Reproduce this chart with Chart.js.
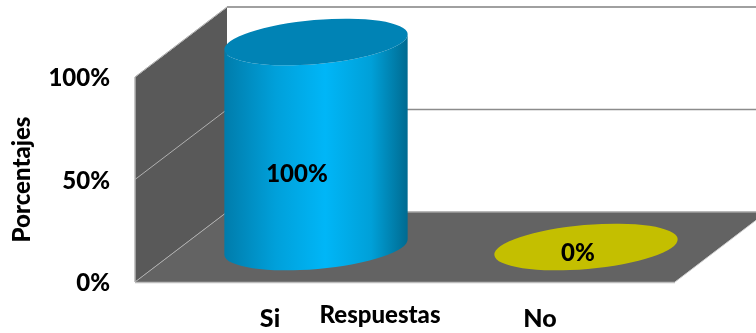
<!DOCTYPE html>
<html>
<head>
<meta charset="utf-8">
<script src="https://cdn.jsdelivr.net/npm/chart.js@4/dist/chart.umd.min.js"></script>
<style>
  html, body { margin: 0; padding: 0; background: #fff; }
  #wrap { width: 756px; height: 333px; }
</style>
</head>
<body>
<div id="wrap"><canvas id="chart" width="756" height="333"></canvas></div>
<script>
const categories = ['Si', 'No'];
const values = [100, 0];
const yTicks = [0, 50, 100];
const barColors = ['#00b6f7', '#c4bf00'];
const yTitle = 'Porcentajes';
const xTitle = 'Respuestas';

// fake 3d depth
const depthX = 92;
const depthY = -70;
const ellipseRy = 22;
const tilt = -5 * Math.PI / 180;
const labelFont = '900 24px Lato';
const labelShift = [[27, -5], [38, -29]];

function poly(ctx, pts, fill, stroke, lw) {
  ctx.beginPath();
  pts.forEach((p, i) => i ? ctx.lineTo(p[0], p[1]) : ctx.moveTo(p[0], p[1]));
  ctx.closePath();
  if (fill) { ctx.fillStyle = fill; ctx.fill(); }
  if (stroke) { ctx.strokeStyle = stroke; ctx.lineWidth = lw || 1; ctx.stroke(); }
}

function line(ctx, x1, y1, x2, y2, color, lw) {
  ctx.beginPath();
  ctx.moveTo(x1, y1);
  ctx.lineTo(x2, y2);
  ctx.strokeStyle = color;
  ctx.lineWidth = lw;
  ctx.stroke();
}

const walls = {
  id: 'walls',
  beforeDatasetsDraw(chart) {
    const { ctx, chartArea: a, scales: { y } } = chart;
    const y0 = y.getPixelForValue(0);
    const yMax = y.getPixelForValue(100);
    ctx.save();
    // floor
    poly(ctx, [[a.left, y0], [a.right, y0], [a.right + depthX, y0 + depthY], [a.left + depthX, y0 + depthY]], '#636363');
    // left wall
    poly(ctx, [[a.left, y0], [a.left, yMax], [a.left + depthX, yMax + depthY], [a.left + depthX, y0 + depthY]], '#595959');
    line(ctx, a.left, y0, a.left, yMax, '#b5b5b5', 1.5);
    line(ctx, a.left, yMax, a.left + depthX, yMax + depthY, '#c8c8c8', 1);
    line(ctx, a.left, y0 + 0.5, a.right, y0 + 0.5, '#bdbdbd', 1.5);
    line(ctx, a.right, y0, a.right + depthX, y0 + depthY, '#d0d0d0', 1);
    // gridlines round the wall
    yTicks.forEach(t => {
      const py = y.getPixelForValue(t);
      line(ctx, a.left, py, a.left + depthX, py + depthY, '#b0b0b0', 1);
      line(ctx, a.left + depthX, py + depthY, a.right + depthX, py + depthY, t === 50 ? '#8c8c8c' : '#a0a0a0', t === 100 ? 2 : 1.5);
    });
    ctx.restore();
  },
  afterDatasetsDraw(chart) {
    const { ctx } = chart;
    const meta = chart.getDatasetMeta(0);
    ctx.save();
    meta.data.forEach((el, i) => {
      const rx = el.width / 2;
      const cx = el.x + depthX / 2;
      const top = el.y + depthY / 2;
      const bottom = el.base + depthY / 2;
      if (bottom - top > 1) {
        const g = ctx.createLinearGradient(cx - rx, 0, cx + rx, 0);
        g.addColorStop(0, '#007cab');
        g.addColorStop(0.28, '#00a0da');
        g.addColorStop(0.55, barColors[i]);
        g.addColorStop(0.8, '#00a0d8');
        g.addColorStop(1, '#006a90');
        ctx.beginPath();
        ctx.ellipse(cx, bottom, rx, ellipseRy, tilt, 0, Math.PI);
        ctx.ellipse(cx, top, rx, ellipseRy, tilt, Math.PI, 0, true);
        ctx.closePath();
        ctx.fillStyle = g;
        ctx.fill();
        ctx.beginPath();
        ctx.ellipse(cx, top, rx, ellipseRy, tilt, 0, Math.PI * 2);
        ctx.fillStyle = '#0083b5';
        ctx.fill();
      } else {
        ctx.beginPath();
        ctx.ellipse(cx, bottom, rx, ellipseRy, tilt, 0, Math.PI * 2);
        ctx.fillStyle = barColors[i];
        ctx.fill();
      }
      // value label
      ctx.fillStyle = '#000';
      ctx.font = labelFont;
      ctx.textAlign = 'center';
      ctx.textBaseline = 'middle';
      ctx.fillText(values[i] + '%', el.x + labelShift[i][0], (el.y + el.base) / 2 + labelShift[i][1]);
    });
    // x axis title sits left of the middle in the original
    ctx.fillStyle = '#000';
    ctx.font = '900 24px Lato';
    ctx.textAlign = 'center';
    ctx.textBaseline = 'middle';
    ctx.fillText(xTitle, 380, 315);
    ctx.restore();
  }
};

new Chart(document.getElementById('chart').getContext('2d'), {
  type: 'bar',
  data: {
    labels: categories,
    datasets: [{
      data: values,
      backgroundColor: 'transparent',
      barThickness: 184
    }]
  },
  plugins: [walls],
  options: {
    responsive: false,
    animation: false,
    layout: { padding: { top: 77, right: 81, left: 0, bottom: 0 } },
    plugins: { legend: { display: false }, tooltip: { enabled: false } },
    scales: {
      x: {
        grid: { display: false, drawTicks: false },
        border: { display: false },
        ticks: { color: '#000', font: { family: 'Lato', weight: '900', size: 25 }, padding: 22, maxRotation: 0 },
        afterFit(s) { s.height = 51; }
      },
      y: {
        min: 0,
        max: 100,
        afterBuildTicks(s) { s.ticks = yTicks.map(v => ({ value: v })); },
        grid: { display: false, drawTicks: false },
        border: { display: false },
        ticks: { color: '#000', font: { family: 'Lato', weight: '900', size: 24 }, padding: 25, labelOffset: 1.5, callback: v => v + '%' },
        title: { display: true, text: yTitle, color: '#000', font: { family: 'Lato', weight: '900', size: 24 }, padding: { top: 8, bottom: 0 } },
        afterFit(s) { s.width = 135; }
      }
    }
  }
});
</script>
</body>
</html>
